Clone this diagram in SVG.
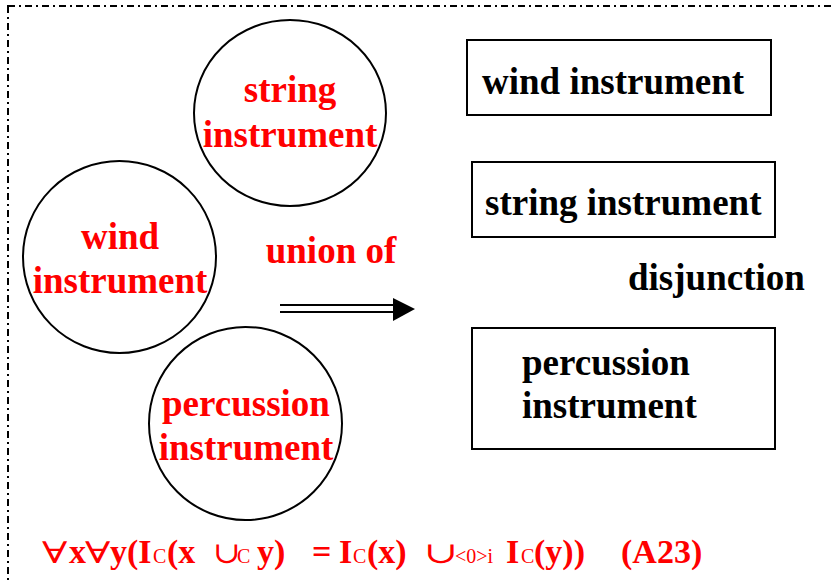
<svg xmlns="http://www.w3.org/2000/svg" width="834" height="580" viewBox="0 0 834 580">
<style>
.t{font-family:"Liberation Serif","Times New Roman",serif;font-weight:bold;font-size:37px}
.red{fill:#ff0000}
.blk{fill:#000}
.c{fill:#fff;stroke:#000;stroke-width:2}
.b{fill:#fff;stroke:#000;stroke-width:2}
.f{font-family:"Liberation Serif","Times New Roman",serif;font-weight:bold;font-size:34px;fill:#ff0000}
.s{font-family:"Liberation Serif","Times New Roman",serif;font-weight:normal;font-size:20px;fill:#ff0000}
.m{font-family:"DejaVu Serif",serif;font-weight:normal;font-size:30px;fill:#ff0000;letter-spacing:-5px}
</style>
<rect x="8" y="6" width="840" height="600" fill="none" stroke="#000" stroke-width="2" stroke-dasharray="7 4 2 4"/>
<g id="circle-string">
<ellipse class="c" cx="290" cy="113" rx="96" ry="93"/>
<text class="t red" x="290" y="102" text-anchor="middle">string</text>
<text class="t red" x="290" y="147" text-anchor="middle">instrument</text>
</g>
<g id="circle-wind">
<ellipse class="c" cx="119.5" cy="257" rx="96.5" ry="96"/>
<text class="t red" x="120" y="249" text-anchor="middle">wind</text>
<text class="t red" x="120" y="293" text-anchor="middle">instrument</text>
</g>
<g id="circle-percussion">
<ellipse class="c" cx="245.5" cy="423.5" rx="96.5" ry="96.5"/>
<text class="t red" x="246" y="416" text-anchor="middle">percussion</text>
<text class="t red" x="246" y="460" text-anchor="middle">instrument</text>
</g>
<g id="label-union">
<text class="t red" x="331" y="263" text-anchor="middle">union of</text>
</g>
<g id="connectors">
<line x1="280" y1="305" x2="396" y2="305" stroke="#000" stroke-width="2"/>
<line x1="280" y1="312" x2="396" y2="312" stroke="#000" stroke-width="2"/>
<polygon points="393,298 415,309 393,321" fill="#000"/>
</g>
<g id="box-wind">
<rect class="b" x="467" y="40" width="304" height="75"/>
<text class="t blk" x="482" y="94">wind instrument</text>
</g>
<g id="box-string">
<rect class="b" x="472" y="162" width="303" height="75"/>
<text class="t blk" x="485" y="215">string instrument</text>
</g>
<g id="label-disjunction">
<text class="t blk" x="628" y="290">disjunction</text>
</g>
<g id="box-percussion">
<rect class="b" x="472" y="328" width="303" height="121"/>
<text class="t blk" x="522" y="375">percussion</text>
<text class="t blk" x="522" y="418">instrument</text>
</g>
<g id="formula">
<text class="m" transform="translate(42,563) scale(1.4,1)">∀</text>
<text class="f" x="69" y="563">x</text>
<text class="m" transform="translate(85,563) scale(1.4,1)">∀</text>
<text class="f" x="110" y="563">y(I</text>
<text class="s" x="153" y="563">C</text>
<text class="f" x="167" y="563">(x</text>
<text class="m" transform="translate(213,563) scale(1.1,1)">∪</text>
<text class="s" x="237" y="563">C</text>
<text class="f" x="257" y="563">y)</text>
<text class="f" x="312" y="563">=</text>
<text class="f" x="339" y="563">I</text>
<text class="s" x="353" y="563">C</text>
<text class="f" x="367" y="563">(x)</text>
<text class="m" transform="translate(424,563) scale(1.35,1)">∪</text>
<text class="s" x="455" y="563">&lt;0&gt;i</text>
<text class="f" x="506" y="563">I</text>
<text class="s" x="521" y="563">C</text>
<text class="f" x="534" y="563">(y))</text>
<text class="f" x="621" y="563">(A23)</text>
</g>
</svg>
